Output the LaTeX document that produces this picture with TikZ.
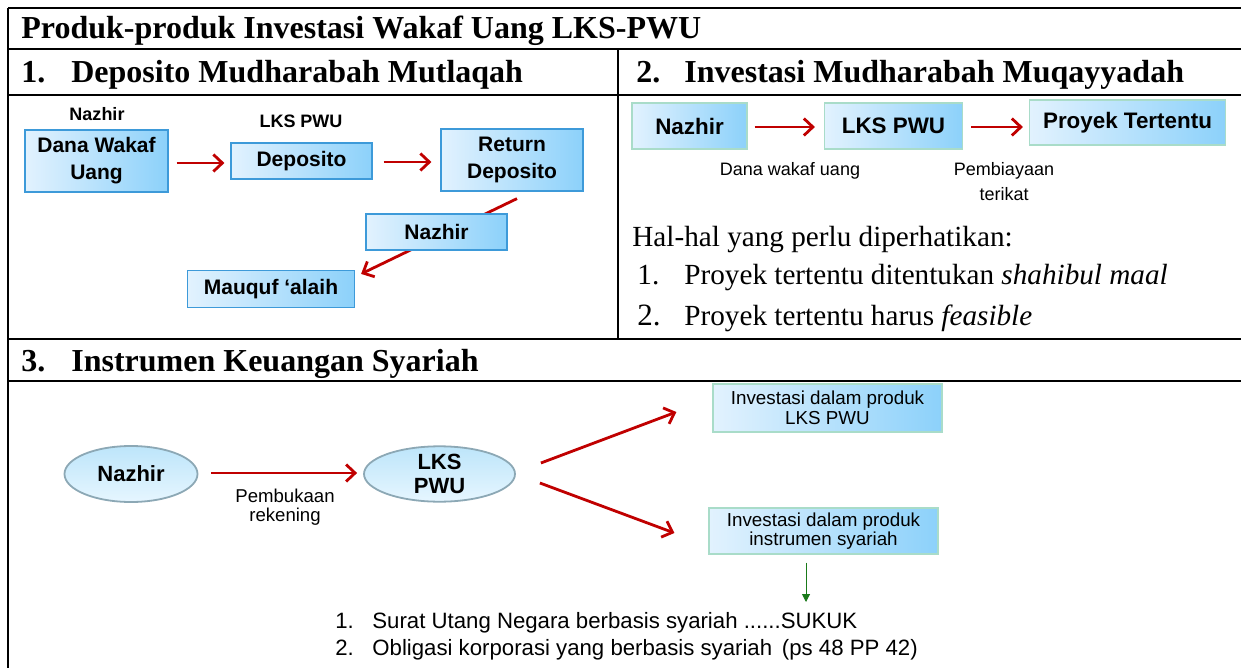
\documentclass[tikz,border=0pt]{standalone}
\usepackage{fontspec}
\setmainfont{Liberation Serif}
\setsansfont{Liberation Sans}
\usetikzlibrary{arrows.meta,shapes.geometric,calc}
\pgfdeclarelayer{bg}
\pgfsetlayers{bg,main}
\definecolor{redarr}{HTML}{C00000}
\definecolor{boxlight}{HTML}{E2F2FE}
\definecolor{boxdark}{HTML}{8CD1FA}
\definecolor{boxblue}{HTML}{3D9AD9}
\definecolor{boxgreen}{HTML}{A9DCC9}
\definecolor{elltop}{HTML}{BDE5FA}
\definecolor{ellbot}{HTML}{E6F6FF}
\definecolor{ellline}{HTML}{8CA8B5}
\definecolor{greenarr}{HTML}{1A7A1A}
\tikzset{
  rule/.style={line width=1.4pt, black},
  hdr/.style={anchor=base west, inner sep=0pt, font=\fontsize{16}{19}\selectfont\bfseries},
  boxa/.style={draw=boxblue, line width=0.6pt, left color=boxlight, right color=boxdark,
     align=center, inner sep=0pt, font=\sffamily\bfseries\fontsize{10.5}{13.5}\selectfont},
  boxb/.style={draw=boxgreen, line width=0.6pt, left color=boxlight, right color=boxdark,
     align=center, inner sep=0pt, font=\sffamily\bfseries\fontsize{11.2}{13.5}\selectfont},
  boxc/.style={draw=boxgreen, line width=0.6pt, left color=boxlight, right color=boxdark,
     align=center, inner sep=0pt, font=\sffamily\fontsize{9.4}{9.8}\selectfont},
  ell/.style={ellipse, draw=ellline, line width=0.9pt, top color=elltop, bottom color=ellbot,
     align=center, inner sep=0pt, font=\sffamily\bfseries\fontsize{11}{11.8}\selectfont},
  lbl/.style={inner sep=0pt, align=center, font=\sffamily\bfseries\fontsize{9}{11}\selectfont},
  sublbl/.style={inner sep=0pt, align=center, font=\sffamily\fontsize{9}{12.5}\selectfont},
  redar/.style={draw=redarr, line width=1.4pt, -{Straight Barb[length=4.5pt,width=8.5pt,line width=1.4pt]}},
  greenar/.style={draw=greenarr, line width=0.5pt, -{Triangle[length=4pt,width=4pt]}},
  serifline/.style={anchor=base west, inner sep=0pt, font=\fontsize{14.6}{17}\selectfont},
  listline/.style={anchor=base west, inner sep=0pt, font=\sffamily\fontsize{11.1}{13}\selectfont},
}
\begin{document}
\begin{tikzpicture}[x=0.5pt,y=-0.5pt]
\useasboundingbox (0,0) rectangle (1241,668);
% table rules
\draw[rule] (8,8) -- (1241,8);
\draw[rule] (8,8) -- (8,668);
\draw[rule] (8,49) -- (1241,49);
\draw[rule] (8,95) -- (1241,95);
\draw[rule] (618,49) -- (618,339);
\draw[rule] (8,339) -- (1241,339);
\draw[rule] (8,381) -- (1241,381);
% headers
\node[hdr] (title) at (21,39) {Produk-produk Investasi Wakaf Uang LKS-PWU};
\node[hdr] (h1) at (21,83) {\makebox[25pt][l]{1.}Deposito Mudharabah Mutlaqah};
\node[hdr] (h2) at (636,83) {\makebox[24pt][l]{2.}Investasi Mudharabah Muqayyadah};
\node[hdr] (h3) at (21,371) {\makebox[25pt][l]{3.}Instrumen Keuangan Syariah};
% section 1
\node[lbl] (lnz) at (97,114) {Nazhir};
\node[lbl] (llks) at (301,121) {LKS PWU};
\node[boxa, minimum width=71.5pt, minimum height=31pt] (dw) at (96.5,161) {Dana Wakaf\\Uang};
\node[boxa, minimum width=70.5pt, minimum height=18pt] (dep) at (301.5,161) {Deposito};
\node[boxa, minimum width=71pt, minimum height=31pt] (ret) at (512,160) {Return\\Deposito};
\node[boxa, minimum width=70.5pt, minimum height=18pt] (nz1) at (436.5,232) {Nazhir};
\node[boxa, minimum width=83.5pt, minimum height=18.5pt] (mq) at (271,289) {Mauquf `alaih};
\draw[redar] ($(dw.east)+(8,2)$) -- ($(dep.west)+(-6,2)$);
\draw[redar] ($(dep.east)+(11,1)$) -- ($(ret.west)+(-9,2)$);
\begin{pgfonlayer}{bg}
\draw[redar] ($(ret.south)+(5,7)$) -- ($(mq.north east)+(6,4)$);
\end{pgfonlayer}
% section 2
\node[boxb, minimum width=57.5pt, minimum height=23pt] (n2) at (689.5,126) {Nazhir};
\node[boxb, minimum width=69pt, minimum height=23pt] (l2) at (893.5,126) {LKS PWU};
\node[boxb, minimum width=98pt, minimum height=22.5pt] (p2) at (1127.5,122.5) {Proyek Tertentu};
\draw[redar] ($(n2.east)+(7,1)$) -- ($(l2.west)+(-9,1)$);
\draw[redar] ($(l2.east)+(8,1)$) -- ($(p2.west)+(-6,4.5)$);
\node[sublbl] (dwu) at (790,171) {Dana wakaf uang};
\node[sublbl, anchor=north] (pbt) at (1004,162) {Pembiayaan\\terikat};
\node[serifline] (hal) at (632,247) {Hal-hal yang perlu diperhatikan:};
\node[serifline] (it1) at (637,285) {\makebox[23.5pt][l]{1.}Proyek tertentu ditentukan \textit{shahibul maal}};
\node[serifline] (it2) at (637,325) {\makebox[23.5pt][l]{\fontsize{15.5}{17}\selectfont 2.}Proyek tertentu harus \textit{feasible}};
% section 3
\node[ell, minimum width=66.5pt, minimum height=28pt] (e1) at (131,474) {Nazhir};
\node[ell, minimum width=75.5pt, minimum height=27pt] (e2) at (439.5,474) {LKS\\PWU};
\draw[redar] ($(e1.east)+(13,-1)$) -- ($(e2.west)+(-6,-1)$);
\node[sublbl, font=\sffamily\fontsize{9.3}{9.6}\selectfont] (pr) at (285,507) {Pembukaan\\rekening};
\node[boxc, minimum width=114.5pt, minimum height=24pt] (b1) at (827.5,408) {Investasi dalam produk\\LKS PWU};
\node[boxc, minimum width=114.5pt, minimum height=23pt] (b2) at (823.5,531) {Investasi dalam produk\\instrumen syariah};
\draw[redar] ($(e2.east)+(25,-11)$) -- ($(b1.west)+(-36,4)$);
\draw[redar] ($(e2.east)+(24,9)$) -- ($(b2.west)+(-34,2)$);
\coordinate (gend) at (806,602);
\draw[greenar] ($(b2.south)+(-17.5,8)$) -- (gend);
\node[listline] (l1) at (335,628) {\makebox[18.5pt][l]{1.}Surat Utang Negara berbasis syariah ......SUKUK};
\node[listline] (l2b) at (335,655) {\makebox[18.5pt][l]{2.}Obligasi korporasi yang berbasis syariah \,(ps 48 PP 42)};
\end{tikzpicture}
\end{document}
